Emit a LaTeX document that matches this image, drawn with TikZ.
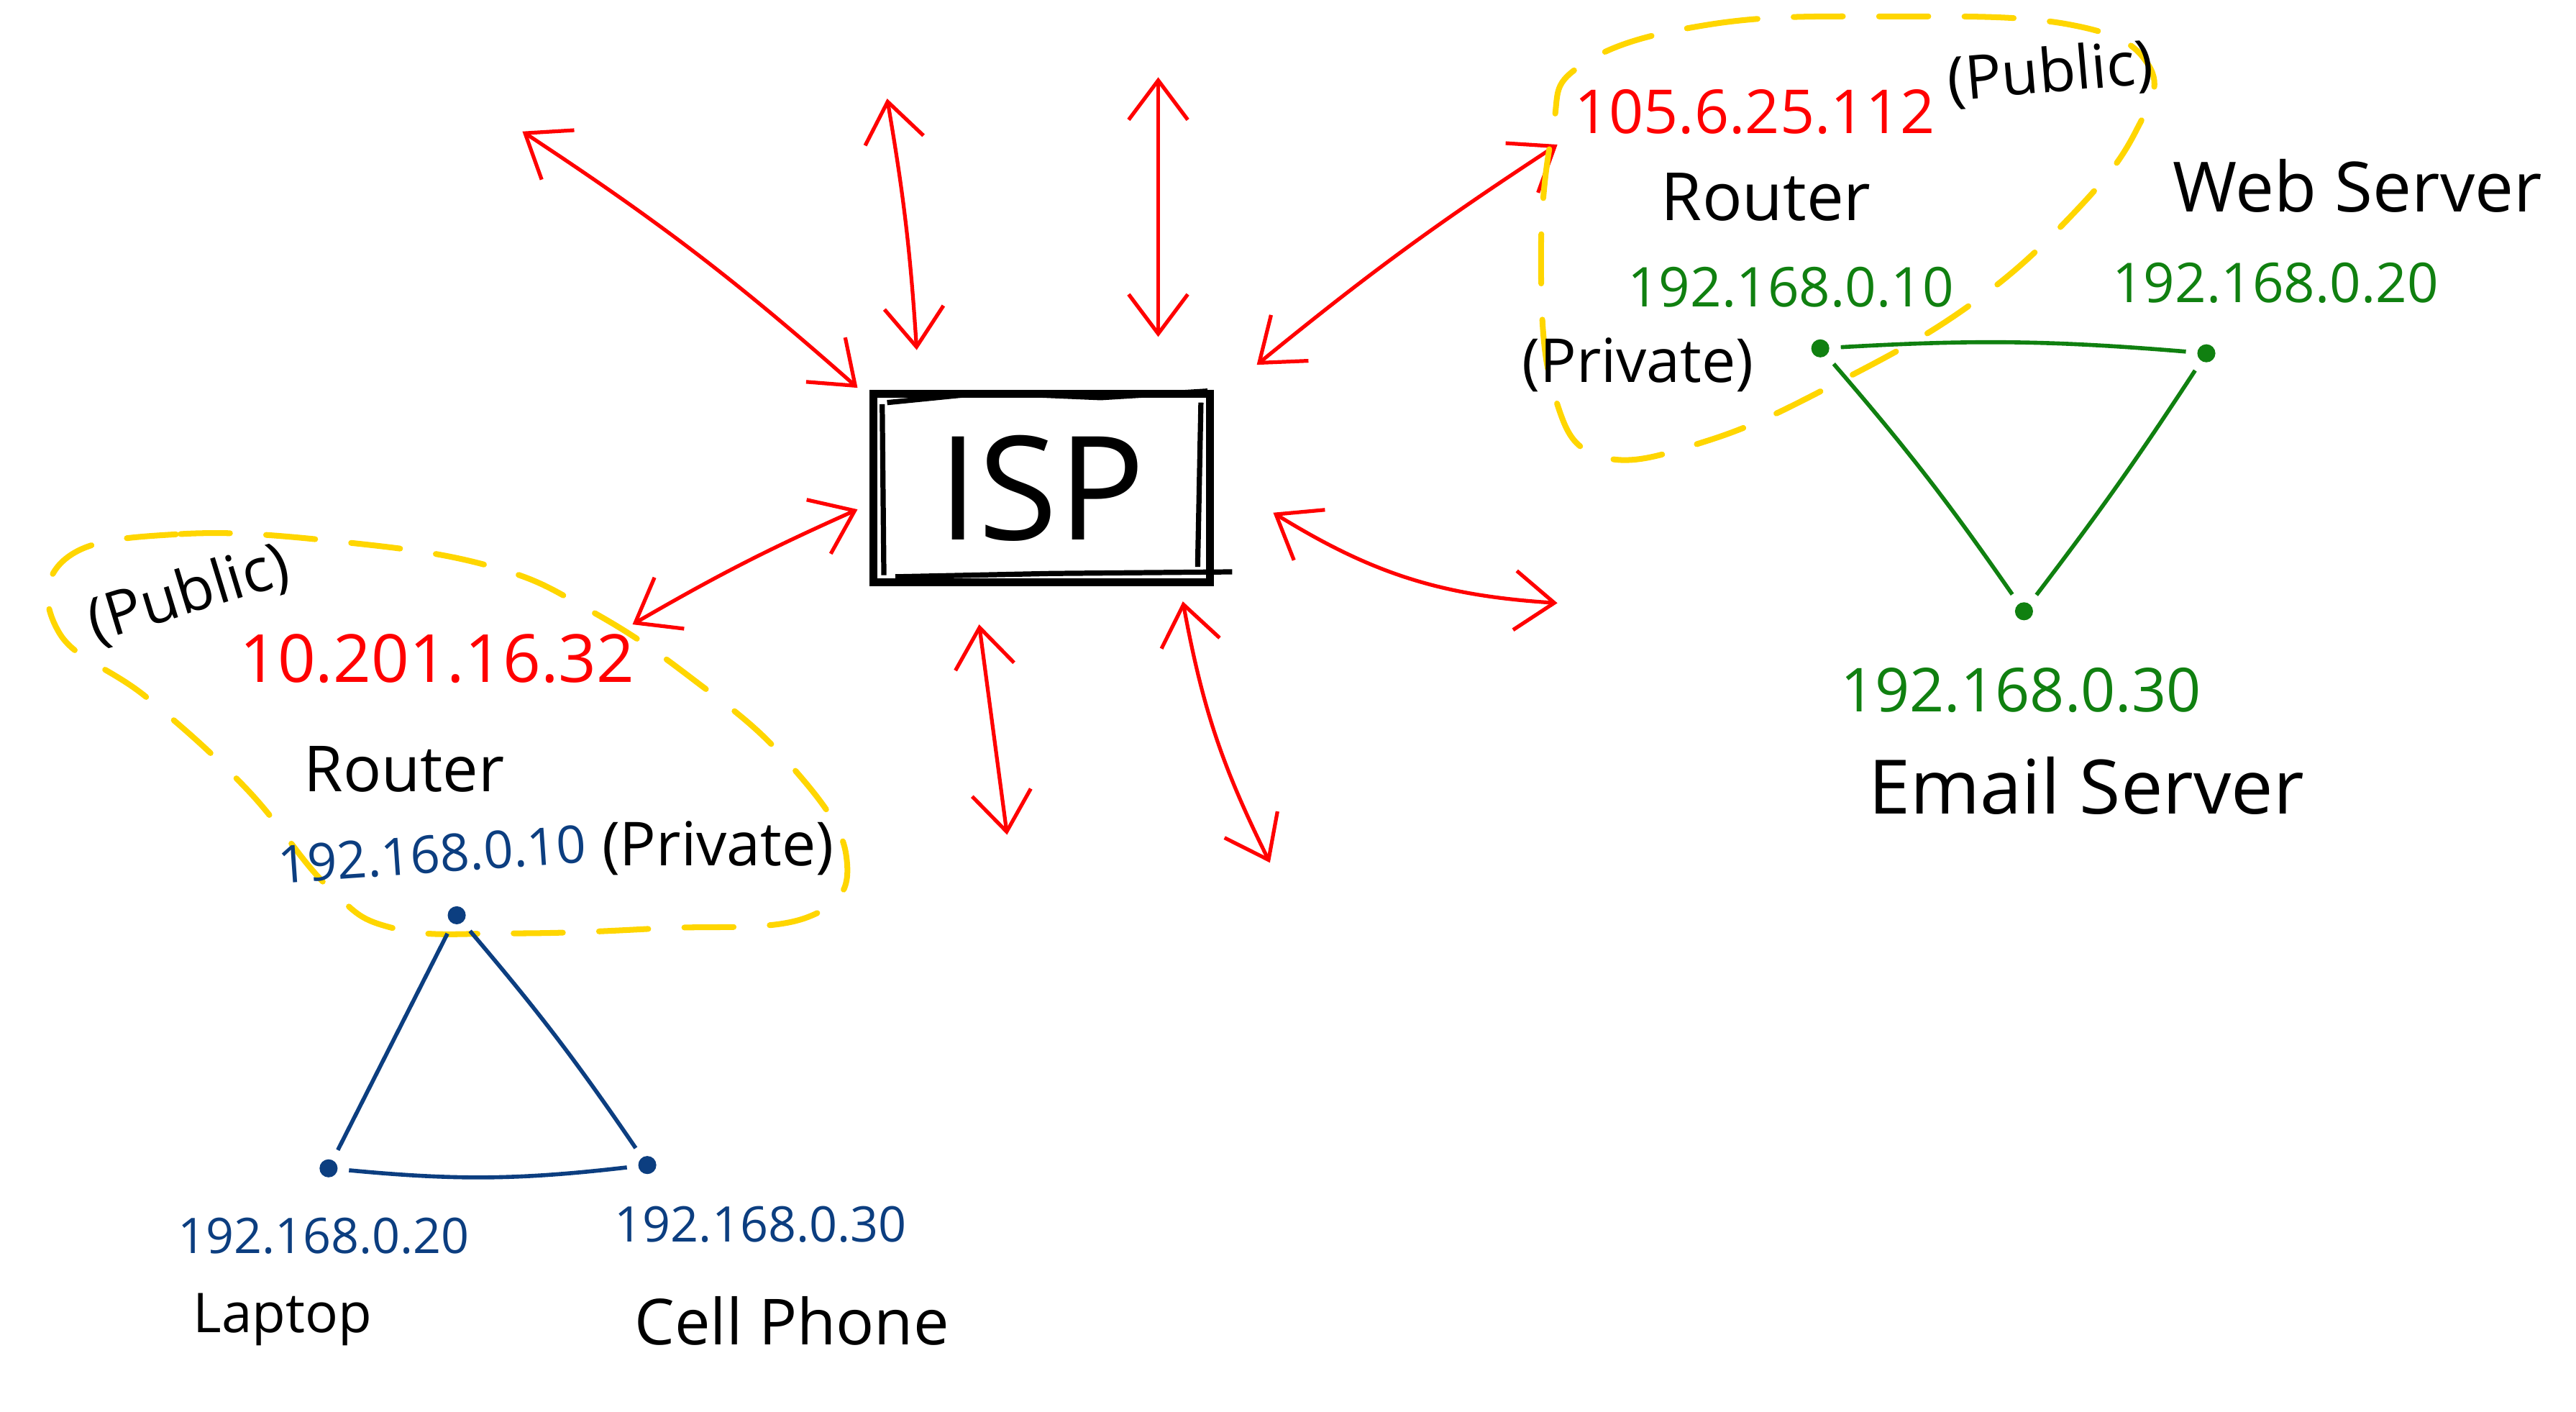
\documentclass[tikz,border=0pt]{standalone}
\usepackage{fontspec}
\setmainfont{Open Sans}
\usetikzlibrary{arrows.meta}

\definecolor{netred}{RGB}{255,0,0}
\definecolor{netyellow}{RGB}{255,214,0}
\definecolor{netblue}{RGB}{12,62,128}
\definecolor{netgreen}{RGB}{16,128,16}

\tikzset{
  link/.style={netred, line width=0.65pt,
    {Straight Barb[length=2.4mm,width=3.6mm]}-{Straight Barb[length=2.4mm,width=3.6mm]}},
  zone/.style={netyellow, line width=1pt, dash pattern=on 3mm off 2.2mm, line cap=round},
  host/.style={circle, inner sep=0pt, minimum size=1.1mm, outer sep=0.7mm},
  lan/.style={line width=0.7pt},
  lbl/.style={inner sep=0pt, font=\fontsize{#1}{#1}\selectfont},
}

\begin{document}
\begin{tikzpicture}[x=0.1mm,y=-0.1mm]
\useasboundingbox (0,0) rectangle (1568,859);

%ISP box
\node[draw, line width=1.4pt, minimum width=20.5mm, minimum height=11.5mm,
      lbl=25] (isp) at (634,297) {ISP};
\draw[line width=0.9pt] (540,245) -- (600,239) -- (670,242) -- (735,238);
\draw[line width=0.9pt] (545,351) -- (640,349) -- (750,348);
\draw[line width=0.9pt] (537,246) -- (538,350);
\draw[line width=0.9pt] (731,245) -- (729,345);

%Red links to the Internet
\coordinate (w1) at (318,80);   \coordinate (i1) at (522,236);
\coordinate (w2) at (540,60);   \coordinate (i2) at (558,213);
\coordinate (w3) at (705,47);   \coordinate (i3) at (705,205);
\coordinate (w4) at (948,88);   \coordinate (i4) at (765,222);
\coordinate (w5) at (385,380);  \coordinate (i5) at (522,310);
\coordinate (w6) at (948,367);  \coordinate (i6) at (775,312);
\coordinate (w7) at (613,508);  \coordinate (i7) at (596,380);
\coordinate (w8) at (773,525);  \coordinate (i8) at (720,366);
\draw[link] (w1) to[bend left=4] (i1);
\draw[link] (w2) to[bend left=3] (i2);
\draw[link] (w3) -- (i3);
\draw[link] (w4) to[bend right=3] (i4);
\draw[link] (w5) to[bend left=3] (i5);
\draw[link] (w6) to[bend left=14] (i6);
\draw[link] (w7) -- (i7);
\draw[link] (w8) to[bend left=8] (i8);

%Left network
\draw[zone] plot[smooth cycle, tension=0.7] coordinates {
  (40,340) (110,325) (210,330) (300,345) (360,372) (420,412) (478,462)
  (515,520) (492,558) (400,565) (310,568) (240,565) (200,540) (150,480)
  (90,425) (36,385)};
\node[lbl=10.5, rotate=17] (lpub) at (115,362) {(Public)};
\node[lbl=11.5, text=netred] (lwan) at (266,401) {10.201.16.32};
\node[lbl=11] (lrt) at (246,468) {Router};
\node[lbl=9, text=netblue, rotate=4] (llan) at (263,520) {192.168.0.10};
\node[lbl=10.5] (lpriv) at (437,516) {(Private)};

\node[host, fill=netblue] (lr) at (278,557) {};
\node[host, fill=netblue] (lap) at (200,711) {};
\node[host, fill=netblue] (cell) at (394,709) {};
\draw[netblue, lan] (lr) -- (lap);
\draw[netblue, lan] (lr) to[bend left=3] (cell);
\draw[netblue, lan] (lap) to[bend right=6] (cell);

\node[lbl=8.5, text=netblue] (lapip) at (197,752) {192.168.0.20};
\node[lbl=9.5] (laptxt) at (172,803) {Laptop};
\node[lbl=8.5, text=netblue] (cellip) at (463,745) {192.168.0.30};
\node[lbl=11] (celltxt) at (482,804) {Cell Phone};

%Right network
\draw[zone] plot[smooth cycle, tension=0.7] coordinates {
  (962,40) (1040,15) (1150,10) (1260,15) (1308,40) (1300,80) (1262,130)
  (1200,185) (1120,232) (1040,268) (975,278) (946,240) (938,160) (945,80)};
\node[lbl=10.5, text=netred] (rwan) at (1068,68) {105.6.25.112};
\node[lbl=10.5, rotate=5] (rpub) at (1248,45) {(Public)};
\node[lbl=11.5] (rrt) at (1075,120) {Router};
\node[lbl=9.5, text=netgreen] (rlan) at (1090,175) {192.168.0.10};
\node[lbl=10.5] (rpriv) at (997,222) {(Private)};
\node[lbl=12] (webtxt) at (1435,113) {Web Server};
\node[lbl=9.5, text=netgreen] (webip) at (1385,172) {192.168.0.20};

\node[host, fill=netgreen] (rr) at (1108,212) {};
\node[host, fill=netgreen] (web) at (1343,215) {};
\node[host, fill=netgreen] (mail) at (1232,372) {};
\draw[netgreen, lan] (rr) to[bend left=4] (web);
\draw[netgreen, lan] (rr) to[bend left=3] (mail);
\draw[netgreen, lan] (web) to[bend left=2] (mail);

\node[lbl=10.5, text=netgreen] (mailip) at (1230,420) {192.168.0.30};
\node[lbl=13] (mailtxt) at (1270,478) {Email Server};

\end{tikzpicture}
\end{document}
